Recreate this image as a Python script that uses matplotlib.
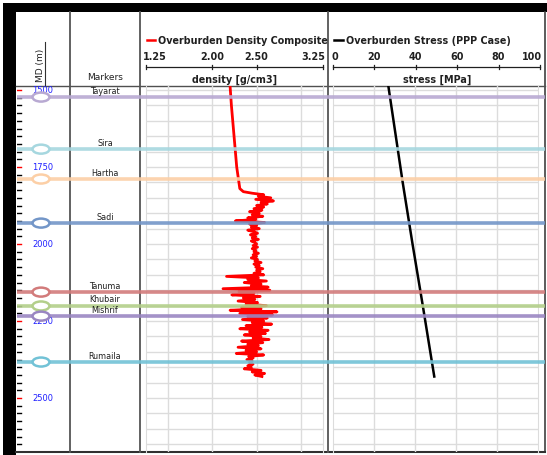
import numpy as np
import matplotlib.pyplot as plt
from matplotlib.patches import Ellipse, Rectangle

W, H = 547, 456
MD_TOP, MD_BOT = 1487, 2675

# Overburden density composite (g/cm3)
den_md_upper = [1487, 1550, 1650, 1750, 1820, 1830]
den_upper = [2.20, 2.215, 2.245, 2.275, 2.31, 2.35]
den_md_start, den_md_step = 1835, 5
den_lower = [
    2.45, 2.58, 2.52, 2.66, 2.49, 2.69, 2.55, 2.62, 2.50, 2.58,
    2.47, 2.56, 2.42, 2.53, 2.45, 2.57, 2.40, 2.49, 2.26, 2.59,
    2.42, 2.50, 2.44, 2.53, 2.40, 2.47, 2.51, 2.43, 2.49, 2.45,
    2.52, 2.44, 2.48, 2.50, 2.46, 2.51, 2.45, 2.49, 2.47, 2.52,
    2.46, 2.50, 2.44, 2.51, 2.48, 2.55, 2.47, 2.53, 2.49, 2.57,
    2.50, 2.54, 2.47, 2.58, 2.16, 2.52, 2.40, 2.61, 2.36, 2.55,
    2.44, 2.63, 2.12, 2.65, 2.30, 2.47, 2.22, 2.54, 2.35, 2.48,
    2.29, 2.51, 2.38, 2.61, 2.33, 2.55, 2.20, 2.73, 2.31, 2.68,
    2.40, 2.62, 2.34, 2.58, 2.45, 2.67, 2.38, 2.56, 2.31, 2.63,
    2.42, 2.60, 2.36, 2.55, 2.46, 2.64, 2.33, 2.57, 2.40, 2.52,
    2.29, 2.55, 2.38, 2.50, 2.27, 2.58, 2.41, 2.46, 2.39, 2.45,
    2.42, 2.46, 2.40, 2.44, 2.36, 2.55, 2.45, 2.59, 2.48, 2.56,
]

# Overburden stress, PPP case (MPa)
stress_md = [1487, 1800, 2000, 2200, 2430]
stress_mpa = [27.0, 34.0, 38.8, 43.8, 49.4]

# Formation tops
marker_names = ["Tayarat", "Sira", "Hartha", "Sadi", "Tanuma", "Khubair", "Mishrif", "Rumaila"]
marker_md = [1523, 1692, 1789, 1932, 2156, 2201, 2234, 2383]
marker_colors = ["#b8a9d2", "#a6d7df", "#fccfa6", "#7396c8",
                 "#d27b7b", "#b3cf8a", "#9a86c2", "#72c2d6"]

den_ticks = [1.25, 2.00, 2.50, 3.25]
den_grid = [1.5, 2.0, 2.5, 3.0]
stress_ticks = [0, 20, 40, 60, 80, 100]

den_md = den_md_upper + [den_md_start + i * den_md_step for i in range(len(den_lower))]
den = den_upper + den_lower

fig = plt.figure(figsize=(W / 100, H / 100), dpi=100)
fig.patch.set_facecolor("white")


def px_axes(x0, x1, y0, y1, z):
    ax = fig.add_axes([x0 / W, 1 - y1 / H, (x1 - x0) / W, (y1 - y0) / H], zorder=z)
    ax.set_facecolor("none")
    return ax


# frame / header layer in pixel coordinates
fr = px_axes(0, W, 0, H, 0)
fr.set_xlim(0, W)
fr.set_ylim(H, 0)
fr.axis("off")
fr.add_patch(Rectangle((3, 4), W - 3, 9, color="black", lw=0))
fr.add_patch(Rectangle((3, 4), 13, H - 4, color="black", lw=0))
fr.plot([545, 545], [13, 453], color="#404040", lw=1.2)
fr.plot([16, 545], [453, 453], color="#303030", lw=1.5)
fr.plot([16, 545], [87, 87], color="#505050", lw=1.0)
for xs in [70, 140, 328]:
    fr.plot([xs, xs], [13, 453], color="#555555", lw=1.3)

txt = "#202020"
fs = 6.9
fr.text(40, 65, "MD (m)", rotation=90, ha="center", va="center", fontsize=6.5, color=txt)
fr.plot([44.5, 44.5], [43, 87], color="#303030", lw=0.8)
fr.text(105, 78, "Markers", ha="center", va="center", fontsize=6.5, color=txt)

# density header
fr.plot([147, 155], [41, 41], color="red", lw=1.8)
fr.text(158, 41, "Overburden Density Composite", ha="left", va="center",
        fontsize=fs, fontweight="bold", color=txt)
den_px = lambda v: 146 + (v - 1.25) * (323 - 146) / 2.0
fr.plot([den_px(1.25), den_px(3.25)], [68, 68], color=txt, lw=0.9)
for v in den_ticks:
    fr.plot([den_px(v)] * 2, [66, 70], color=txt, lw=0.9)
    ha = "left" if v == den_ticks[0] else "right" if v == den_ticks[-1] else "center"
    xx = den_px(v) - 3 if ha == "left" else den_px(v) + 2 if ha == "right" else den_px(v)
    fr.text(xx, 57, f"{v:.2f}", ha=ha, va="center", fontsize=fs, fontweight="bold", color=txt)
fr.text(235, 80, "density [g/cm3]", ha="center", va="center", fontsize=fs,
        fontweight="bold", color=txt)

# stress header
fr.plot([334, 343], [41, 41], color="black", lw=1.8)
fr.text(346, 41, "Overburden Stress (PPP Case)", ha="left", va="center",
        fontsize=fs, fontweight="bold", color=txt)
st_px = lambda v: 333 + v * (540 - 333) / 100
fr.plot([st_px(0), st_px(100)], [68, 68], color=txt, lw=0.9)
for v in stress_ticks:
    fr.plot([st_px(v)] * 2, [66, 70], color=txt, lw=0.9)
    ha = "left" if v == 0 else "right" if v == 100 else "center"
    xx = st_px(v) - 2 if ha == "left" else st_px(v) + 2 if ha == "right" else st_px(v)
    fr.text(xx, 57, str(v), ha=ha, va="center", fontsize=fs, fontweight="bold", color=txt)
fr.text(437, 80, "stress [MPa]", ha="center", va="center", fontsize=fs,
        fontweight="bold", color=txt)

grid_c = "#dcdcdc"
md_grid = np.arange(1500, MD_BOT, 50)

# density track
ax1 = px_axes(146, 323, 87, 453, 1)
ax1.set_xlim(1.25, 3.25)
ax1.set_ylim(MD_BOT, MD_TOP)
for v in den_grid:
    ax1.axvline(v, color=grid_c, lw=1.0, zorder=0)
for d in md_grid:
    ax1.axhline(d, color=grid_c, lw=1.0, zorder=0)
ax1.plot(den, den_md, color="red", lw=2.0, zorder=2)
for s in ax1.spines.values():
    s.set_color(grid_c)
ax1.spines["top"].set_visible(False)
ax1.spines["bottom"].set_visible(False)
ax1.set_xticks([])
ax1.set_yticks([])

# stress track
ax2 = px_axes(333, 538, 87, 453, 1)
ax2.set_xlim(0, 100)
ax2.set_ylim(MD_BOT, MD_TOP)
for v in stress_ticks[1:-1]:
    ax2.axvline(v, color=grid_c, lw=1.0, zorder=0)
for d in md_grid:
    ax2.axhline(d, color=grid_c, lw=1.0, zorder=0)
ax2.plot(stress_mpa, stress_md, color="black", lw=1.8, zorder=2)
for s in ax2.spines.values():
    s.set_color(grid_c)
ax2.spines["top"].set_visible(False)
ax2.spines["bottom"].set_visible(False)
ax2.set_xticks([])
ax2.set_yticks([])

# overlay: depth scale and formation tops
ov = px_axes(17, 545, 87, 453, 3)
ov.set_xlim(17, 545)
ov.set_ylim(MD_BOT, MD_TOP)
ov.axis("off")
for d in range(1500, MD_BOT, 25):
    major = d % 250 == 0
    ov.plot([17, 21], [d, d], color="red" if major else "black", lw=1.0)
    if major:
        ov.text(43, d - 3, str(d), ha="center", va="center", fontsize=6, color="#2020ff")

md_per_px = (MD_BOT - MD_TOP) / (453 - 87)
for name, md, c in zip(marker_names, marker_md, marker_colors):
    ov.plot([17, 545], [md, md], color=c, lw=2.6, alpha=0.9, solid_capstyle="butt", zorder=2)
    ov.add_patch(Ellipse((41, md), 17, 9 * md_per_px, facecolor="white",
                         edgecolor=c, lw=1.8, zorder=3))
    ov.text(105, md - 7 * md_per_px, name, ha="center", va="center", fontsize=5.8,
            color=txt, zorder=4)

fig.savefig("out.png", dpi=100)
